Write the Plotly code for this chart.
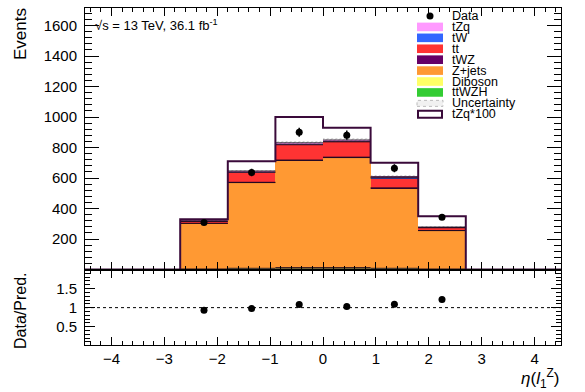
import numpy as np
import plotly.graph_objects as go

# ---------------- data ----------------
bin_edges = [-4.5, -3.6, -2.7, -1.8, -0.9, 0.0, 0.9, 1.8, 2.7, 3.6, 4.5]
ttwzh   = [0, 0, 1, 3, 5, 5, 3, 1, 0, 0]
diboson = [0, 0, 2, 5, 8, 8, 5, 2, 0, 0]
zjets   = [0, 0, 299, 562, 702, 721, 525, 252, 0, 0]
twz     = [0, 0, 1, 2, 3, 3, 2, 1, 0, 0]
ttbar   = [0, 0, 12, 65, 100, 100, 65, 18, 0, 0]
tw      = [0, 0, 1, 2, 3, 3, 2, 1, 0, 0]
tzq     = [0, 0, 3.3, 7.1, 10.0, 9.3, 7.0, 3.5, 0, 0]
unc     = [0, 0, 6, 9, 11, 11, 9, 6, 0, 0]
data_x   = [-2.25, -1.35, -0.45, 0.45, 1.35, 2.25]
data_y   = [308, 636, 900, 881, 664, 343]
data_err = [18, 25, 30, 30, 26, 19]
ratio    = [0.93, 0.98, 1.08, 1.03, 1.09, 1.21]
ratio_err = [0.06, 0.04, 0.035, 0.035, 0.045, 0.07]
tzq_scale = 100

y_ticks = [200, 400, 600, 800, 1000, 1200, 1400, 1600]
r_ticks = [0.5, 1, 1.5]
x_ticks = [-4, -3, -2, -1, 0, 1, 2, 3, 4]

# stack order bottom -> top
components = [
    ("ttWZH", ttwzh, "#33CC33"),
    ("Diboson", diboson, "#FFFF66"),
    ("Z+jets", zjets, "#FF9933"),
    ("tWZ", twz, "#660066"),
    ("tt", ttbar, "#FF3333"),
    ("tW", tw, "#3366FF"),
    ("tZq", tzq, "#FF99FF"),
]
legend_order = [
    ("tZq", "#FF99FF"), ("tW", "#3366FF"), ("tt", "#FF3333"), ("tWZ", "#660066"),
    ("Z+jets", "#FF9933"), ("Diboson", "#FFFF66"), ("ttWZH", "#33CC33"),
]

edges = np.array(bin_edges)
centers = 0.5 * (edges[:-1] + edges[1:])
widths = np.diff(edges)

FONT = "Liberation Sans, Arial, sans-serif"
W, H = 585, 392
L, R, T, B = 85, 561, 8, 345   # plot frame in pixels
SPLIT = 269.5

def px(x):
    return (x - L) / (R - L)

def py(y):
    return (B - y) / (B - T)

fig = go.Figure()

cum = np.zeros(len(centers))
levels = []
for name, vals, col in components:
    v = np.array(vals, dtype=float)
    fig.add_trace(go.Bar(x=centers, y=v, base=cum.copy(), width=widths,
                         marker=dict(color=col, line=dict(width=0)),
                         showlegend=False, xaxis="x", yaxis="y"))
    cum = cum + v
    levels.append(cum.copy())

total = cum.copy()
u = np.array(unc, dtype=float)
fig.add_trace(go.Bar(x=centers, y=2 * u, base=total - u, width=widths,
                     marker=dict(color="rgba(0,0,0,0)", line=dict(width=0),
                                 pattern=dict(shape="/", fgcolor="#999999", size=3, solidity=0.4)),
                     showlegend=False, xaxis="x", yaxis="y"))

# horizontal dark lines at the top of each stacked component
for lev in levels:
    xs, ys = [], []
    for i in range(len(centers)):
        if lev[i] > 0:
            xs += [edges[i], edges[i + 1], None]
            ys += [lev[i], lev[i], None]
    fig.add_trace(go.Scatter(x=xs, y=ys, mode="lines",
                             line=dict(color="rgba(30,10,30,0.85)", width=1),
                             showlegend=False, hoverinfo="skip", xaxis="x", yaxis="y"))

# tZq*100 outline histogram
tz = np.array(tzq, dtype=float) * tzq_scale
fig.add_trace(go.Scatter(x=list(edges), y=list(tz) + [tz[-1]], mode="lines",
                         line=dict(color="#3A0A3A", width=2, shape="hv"),
                         showlegend=False, xaxis="x", yaxis="y"))

# data
fig.add_trace(go.Scatter(x=data_x, y=data_y, mode="markers",
                         marker=dict(color="black", size=7),
                         error_y=dict(type="data", array=data_err, width=0, thickness=1.5, color="black"),
                         showlegend=False, xaxis="x", yaxis="y"))

# ratio
fig.add_trace(go.Scatter(x=data_x, y=ratio, mode="markers",
                         marker=dict(color="black", size=7),
                         error_y=dict(type="data", array=ratio_err, width=0, thickness=1.5, color="black"),
                         showlegend=False, xaxis="x2", yaxis="y2"))

dom_split = py(SPLIT)
axis_common = dict(showline=True, linecolor="black", linewidth=1, mirror="allticks",
                   ticks="inside", tickcolor="black", showgrid=False, zeroline=False,
                   tickfont=dict(family=FONT, size=15, color="black"))

fig.update_layout(
    width=W, height=H,
    margin=dict(l=L, r=W - R, t=T, b=H - B),
    paper_bgcolor="white", plot_bgcolor="white",
    barmode="overlay", bargap=0, showlegend=False,
    xaxis=dict(domain=[0, 1], anchor="y", range=[-4.5, 4.5], tickvals=x_ticks,
               showticklabels=False, ticklen=8,
               minor=dict(dtick=0.2, tick0=0, ticklen=4, ticks="inside", tickcolor="black"),
               **axis_common),
    yaxis=dict(domain=[dom_split, 1], anchor="x", range=[0, 1715], tickvals=y_ticks,
               ticklen=14, ticklabelstandoff=4,
               minor=dict(dtick=40, tick0=0, ticklen=7, ticks="inside", tickcolor="black"),
               **axis_common),
    xaxis2=dict(domain=[0, 1], anchor="y2", range=[-4.5, 4.5], tickvals=x_ticks,
                ticklen=8, matches="x",
                minor=dict(dtick=0.2, tick0=0, ticklen=4, ticks="inside", tickcolor="black"),
                **axis_common),
    yaxis2=dict(domain=[0, dom_split], anchor="x2", range=[0.02, 2.0], tickvals=r_ticks,
                ticklen=10, ticklabelstandoff=4,
                minor=dict(dtick=0.1, tick0=0, ticklen=5, ticks="inside", tickcolor="black"),
                **axis_common),
)

shapes = [dict(type="line", xref="paper", yref="y2", x0=0, x1=1, y0=1, y1=1,
               line=dict(color="black", width=1, dash="dot"))]
ann = []

# legend (manual, compact like the ROOT legend)
leg_y0, leg_dy = 16, 10.92
bx0, bx1, bh = 417, 443, 4.3
text_x = 450
LEG_FS = 12.5
ann.append(dict(x=px(text_x), y=py(leg_y0), xref="paper", yref="paper", text="Data",
                showarrow=False, xanchor="left", yanchor="middle",
                font=dict(family=FONT, size=LEG_FS, color="black")))
shapes.append(dict(type="circle", xref="paper", yref="paper",
                   x0=px(426.5), x1=px(433.5), y0=py(leg_y0 + 3.5), y1=py(leg_y0 - 3.5),
                   fillcolor="black", line=dict(width=0)))
for i, (name, col) in enumerate(legend_order):
    yc = leg_y0 + leg_dy * (i + 1)
    shapes.append(dict(type="rect", xref="paper", yref="paper",
                       x0=px(bx0), x1=px(bx1), y0=py(yc + bh), y1=py(yc - bh),
                       fillcolor=col, line=dict(width=0)))
    ann.append(dict(x=px(text_x), y=py(yc), xref="paper", yref="paper", text=name,
                    showarrow=False, xanchor="left", yanchor="middle",
                    font=dict(family=FONT, size=LEG_FS, color="black")))
yc = leg_y0 + leg_dy * 8
shapes.append(dict(type="rect", xref="paper", yref="paper",
                   x0=px(bx0), x1=px(bx1), y0=py(yc + 3), y1=py(yc - 3),
                   fillcolor="rgba(200,200,200,0.25)", line=dict(width=1, color="#BBBBBB", dash="dot")))
ann.append(dict(x=px(text_x), y=py(yc), xref="paper", yref="paper", text="Uncertainty",
                showarrow=False, xanchor="left", yanchor="middle",
                font=dict(family=FONT, size=LEG_FS, color="black")))
yc = leg_y0 + leg_dy * 9
shapes.append(dict(type="rect", xref="paper", yref="paper",
                   x0=px(bx0 + 1), x1=px(bx1 - 1), y0=py(yc + 3.5), y1=py(yc - 3.5),
                   fillcolor="white", line=dict(width=2, color="#3A0A3A")))
ann.append(dict(x=px(text_x), y=py(yc), xref="paper", yref="paper", text="tZq*100",
                showarrow=False, xanchor="left", yanchor="middle",
                font=dict(family=FONT, size=LEG_FS, color="black")))

# energy / lumi label
ann.append(dict(x=px(93), y=py(25), xref="paper", yref="paper",
                text="√s = 13 TeV, 36.1 fb<sup>-1</sup>", showarrow=False,
                xanchor="left", yanchor="middle", font=dict(family=FONT, size=13, color="black")))
# axis titles
ann.append(dict(x=px(20), y=py(6), xref="paper", yref="paper", text="Events",
                textangle=-90, showarrow=False, xanchor="center", yanchor="top",
                font=dict(family=FONT, size=17, color="black")))
ann.append(dict(x=px(20), y=py(311), xref="paper", yref="paper", text="Data/Pred.",
                textangle=-90, showarrow=False, xanchor="center", yanchor="middle",
                font=dict(family=FONT, size=16, color="black")))
ann.append(dict(x=px(561), y=py(378), xref="paper", yref="paper",
                text="<i>η</i>(<i>l</i><sub>1</sub><sup>Z</sup>)", showarrow=False,
                xanchor="right", yanchor="middle", font=dict(family=FONT, size=17, color="black")))

fig.update_layout(shapes=shapes, annotations=ann)
fig.write_html("out.html")
